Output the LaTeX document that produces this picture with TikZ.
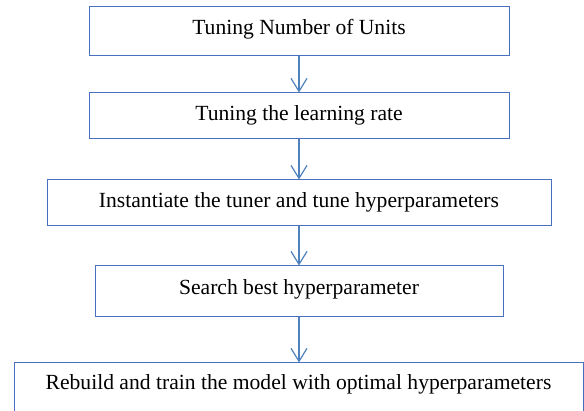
\documentclass[tikz,border=0pt]{standalone}
\usepackage{fontspec}
\setmainfont{Liberation Serif}
\usetikzlibrary{arrows.meta}
\definecolor{boxblue}{RGB}{72,112,190}
\definecolor{arrowblue}{RGB}{79,129,189}

\begin{document}
\begin{tikzpicture}[x=1pt,y=-1pt,
                    flow/.style={-{Straight Barb[length=13pt,width=16pt]},arrowblue,line width=1.2pt},
                    step node/.style={rectangle,draw=boxblue,line width=1pt,inner sep=0pt,
                                      text height=15pt,text depth=5pt,
                                      font=\fontsize{21.6}{25}\selectfont}]
  \useasboundingbox (0,0) rectangle (584,411);

  \node[step node, minimum width=420pt, minimum height=49pt, text depth=8pt] (units) at (299,31.5) {Tuning Number of Units};
  \node[step node, minimum width=420pt, minimum height=46pt] (rate) at (299,116) {Tuning the learning rate};
  \node[step node, minimum width=504pt, minimum height=46pt] (tuner) at (299,203) {Instantiate the tuner and tune hyperparameters};
  \node[step node, minimum width=408pt, minimum height=51pt, text depth=8pt] (search) at (299,291.5) {Search best hyperparameter};
  \node[step node, minimum width=569pt, minimum height=57pt, text depth=18pt] (rebuild) at (298.5,391.5) {Rebuild and train the model with optimal hyperparameters};

  \draw[flow] (units) -- (rate);
  \draw[flow] (rate) -- (tuner);
  \draw[flow] (tuner) -- (search);
  \draw[flow] (search.south) -- (search.south |- rebuild.north);
\end{tikzpicture}
\end{document}
